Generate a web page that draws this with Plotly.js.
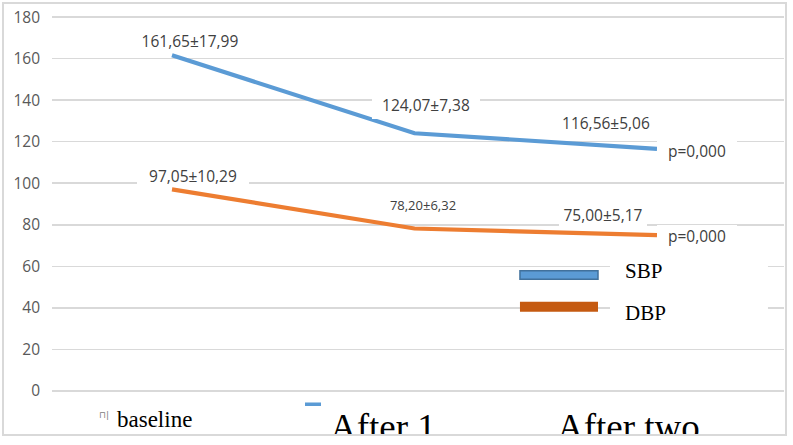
<!DOCTYPE html>
<html><head><meta charset="utf-8">
<script src="https://cdn.plot.ly/plotly-3.0.1.min.js"></script>
<style>
html,body{margin:0;padding:0;background:#fff;overflow:hidden}
#wrap{position:absolute;left:0;top:0;width:793px;height:434px;overflow:hidden}
#frame{position:absolute;left:2px;top:2px;width:781px;height:430px;border:2px solid #d9d9d9;pointer-events:none;z-index:10}
</style></head><body>
<div id="wrap"><div id="chart"></div></div>
<div id="frame"></div>
<script>
// ---- data ----
const categories = ['baseline', 'After 1', 'After two'];
const sbp = [161.65, 124.07, 116.56];
const dbp = [97.05, 78.20, 75.00];
const sbpLabels = ['161,65±17,99', '124,07±7,38', '116,56±5,06'];
const dbpLabels = ['97,05±10,29', '78,20±6,32', '75,00±5,17'];
const pLabels = ['p=0,000', 'p=0,000'];
const seriesNames = ['SBP', 'DBP'];
const yTicks = [0, 20, 40, 60, 80, 100, 120, 140, 160, 180];

// ---- styles ----
const BLUE = '#5b9bd5', ORANGE = '#ed7d31', DORANGE = '#c55a11';
const labelFont = {family: 'Open Sans, sans-serif', size: 15.5, color: '#404040'};
const serif = 'Liberation Serif, Times New Roman, serif';

const xIdx = categories.map((c, i) => i);

const traces = [
  {x: xIdx, y: sbp, name: seriesNames[0], type: 'scatter', mode: 'lines',
   line: {color: BLUE, width: 4.2}, hoverinfo: 'skip'},
  {x: xIdx, y: dbp, name: seriesNames[1], type: 'scatter', mode: 'lines',
   line: {color: ORANGE, width: 4.2}, hoverinfo: 'skip'}
];

function lab(i, y, text, dx, dy, w, h, size) {
  return {x: i, y: y, xref: 'x', yref: 'y', text: text, showarrow: false,
    xanchor: 'center', yanchor: 'middle', xshift: dx, yshift: dy,
    width: w, height: h, bgcolor: '#ffffff', borderpad: 0, borderwidth: 0,
    font: Object.assign({}, labelFont, size ? {size: size} : {})};
}

const sbpOff = [[18, 14, 112, 24], [11.5, 28, 108, 28], [-51, 25.5, 98, 24]];
const dbpOff = [[21, 13.6, 112, 22], [8.5, 23.6, 80, 20, 13], [-54, 20, 88, 24]];

const annotations = [];
sbp.forEach((v, i) => annotations.push(lab(i, v, sbpLabels[i], sbpOff[i][0], sbpOff[i][1], sbpOff[i][2], sbpOff[i][3])));
dbp.forEach((v, i) => annotations.push(lab(i, v, dbpLabels[i], dbpOff[i][0], dbpOff[i][1], dbpOff[i][2], dbpOff[i][3], dbpOff[i][4])));
annotations.push(lab(2, sbp[2], pLabels[0], 40, -2, 80, 24));
annotations.push(lab(2, dbp[2], pLabels[1], 40, -1, 80, 22));

// legend texts
annotations.push({xref: 'paper', yref: 'paper', x: 0.7805, y: 0.3235, xanchor: 'left', yanchor: 'middle',
  text: seriesNames[0], showarrow: false, font: {family: serif, size: 21, color: '#000'}});
annotations.push({xref: 'paper', yref: 'paper', x: 0.7805, y: 0.2124, xanchor: 'left', yanchor: 'middle',
  text: seriesNames[1], showarrow: false, font: {family: serif, size: 21, color: '#000'}});

// category labels (as drawn below the axis)
annotations.push({xref: 'paper', yref: 'paper', x: 0.0710, y: -0.058, xanchor: 'center', yanchor: 'middle',
  text: '⊓|', showarrow: false, font: {family: 'DejaVu Sans', size: 9, color: '#808080'}});
annotations.push({xref: 'paper', yref: 'paper', x: 0.0865, y: -0.0704, xanchor: 'left', yanchor: 'middle',
  text: categories[0], showarrow: false, font: {family: serif, size: 23, color: '#000'}});
annotations.push({xref: 'paper', yref: 'paper', x: 0.3765, y: -0.0907, xanchor: 'left', yanchor: 'middle',
  text: categories[1], showarrow: false, font: {family: serif, size: 37, color: '#000'}});
annotations.push({xref: 'paper', yref: 'paper', x: 0.6865, y: -0.0907, xanchor: 'left', yanchor: 'middle',
  text: categories[2], showarrow: false, font: {family: serif, size: 37, color: '#000'}});

const shapes = [
  // white legend panel
  {type: 'rect', xref: 'paper', yref: 'paper', x0: 0.7623, x1: 0.9781, y0: 0.172, y1: 0.373,
   fillcolor: '#ffffff', line: {width: 0}, layer: 'above'},
  // SBP swatch
  {type: 'rect', xref: 'paper', yref: 'paper', x0: 0.6393, x1: 0.7459, y0: 0.3008, y1: 0.3235,
   fillcolor: BLUE, line: {color: '#41719c', width: 1.5}, layer: 'above'},
  // DBP swatch
  {type: 'rect', xref: 'paper', yref: 'paper', x0: 0.6393, x1: 0.7459, y0: 0.2151, y1: 0.2415,
   fillcolor: DORANGE, line: {width: 0}, layer: 'above'},
  // small blue dash under axis
  {type: 'rect', xref: 'paper', yref: 'paper', x0: 0.3456, x1: 0.3675, y0: -0.0344, y1: -0.0251,
   fillcolor: BLUE, line: {width: 0}, layer: 'above'}
];

const layout = {
  width: 793, height: 434,
  margin: {l: 52, r: 9, t: 15, b: 41},
  paper_bgcolor: '#ffffff', plot_bgcolor: '#ffffff',
  showlegend: false,
  xaxis: {type: 'linear', range: [-0.4948, 2.5237], showgrid: false, zeroline: false,
          showticklabels: false, ticks: '', showline: false, fixedrange: true},
  yaxis: {range: [-1, 181], tickvals: yTicks, ticktext: yTicks.map(String),
          showgrid: true, gridcolor: '#d9d9d9', gridwidth: 1.6, zeroline: false,
          showline: false, ticks: '', ticklabelstandoff: 11,
          tickfont: {family: 'Open Sans, sans-serif', size: 15.5, color: '#595959'}, fixedrange: true},
  annotations: annotations,
  shapes: shapes
};

Plotly.newPlot('chart', traces, layout, {staticPlot: true, displayModeBar: false});
</script>
</body></html>
